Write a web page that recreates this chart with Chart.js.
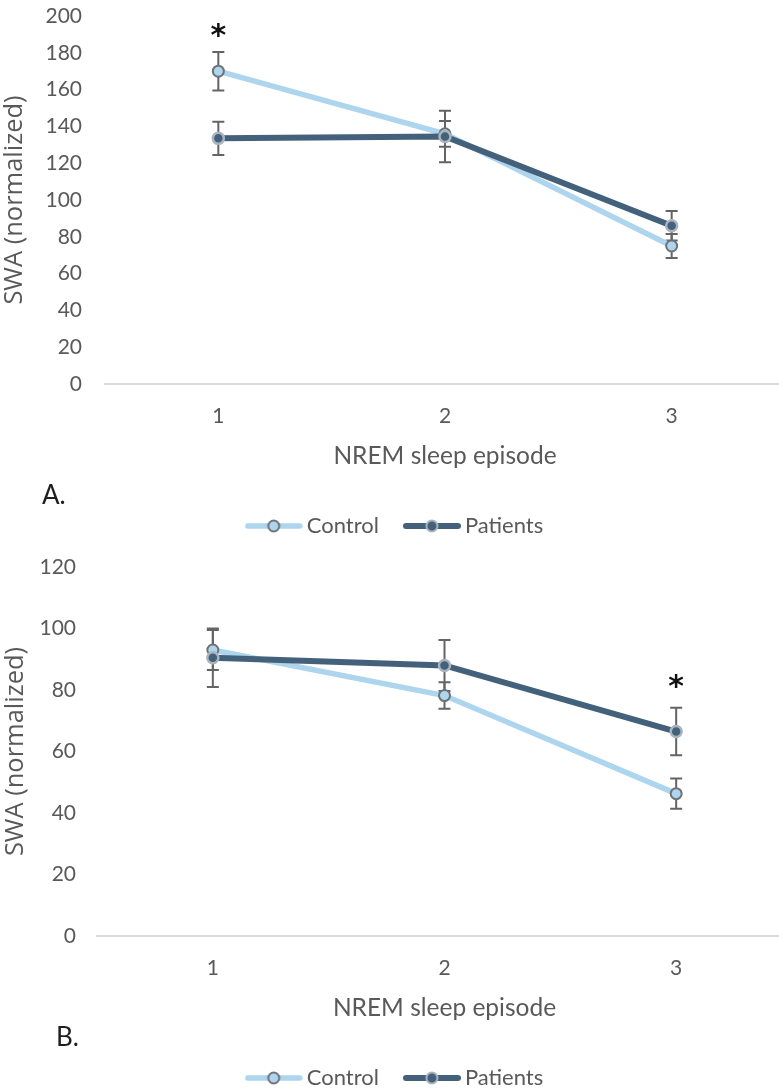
<!DOCTYPE html>
<html>
<head>
<meta charset="utf-8">
<script src="https://cdn.jsdelivr.net/npm/chart.js@4/dist/chart.umd.min.js"></script>
<style>
  html, body { margin: 0; padding: 0; background: #fff; overflow: hidden; width: 779px; height: 1088px; }
  .wrap { position: absolute; left: 0; width: 800px; height: 560px; }
  .panel-tag { position: absolute; font-family: Lato, sans-serif; font-size: 26px; line-height: 26px; color: #1e1e1e; }
</style>
</head>
<body>
<div class="wrap" style="top:0"><canvas id="chartA" width="800" height="560"></canvas></div>
<div class="wrap" style="top:551px"><canvas id="chartB" width="800" height="560"></canvas></div>
<div class="panel-tag" style="left:42px; top:481px">A.</div>
<div class="panel-tag" style="left:56px; top:1023px">B.</div>
<script>
// NREM sleep episodes on the x axis
const episodes = ['1', '2', '3'];
const seriesNames = ['Control', 'Patients'];

// Panel A: SWA (normalized), mean and error per episode
const controlA = [170, 136, 75];
const controlAErr = [10.5, 7, 6.5];
const patientsA = [133.5, 134.5, 86];
const patientsAErr = [9, 14, 8];
const starsA = [193.5, null, null];
const ticksA = [0, 200, 20];

// Panel B: SWA (normalized), mean and error per episode
const controlB = [93, 78.2, 46.3];
const controlBErr = [6.5, 4.3, 4.9];
const patientsB = [90.5, 88, 66.5];
const patientsBErr = [9.5, 8.3, 7.7];
const starsB = [null, null, 83.5];
const ticksB = [0, 120, 20];

const CONTROL_LINE = '#aed5ee';
const CONTROL_EDGE = '#6e7276';
const PATIENT_LINE = '#44617b';
const PATIENT_EDGE = '#aab4be';
const TEXT = '#595959';
const ERR = '#646464';

// Legend swatch: line with its marker
function swatch(lineColor, lineWidth, fill, edge) {
  const c = document.createElement('canvas');
  c.width = 58; c.height = 16;
  const g = c.getContext('2d');
  g.strokeStyle = lineColor; g.lineWidth = lineWidth; g.lineCap = 'round';
  g.beginPath(); g.moveTo(3, 8); g.lineTo(55, 8); g.stroke();
  g.beginPath(); g.arc(29, 8, 5.5, 0, Math.PI * 2);
  g.fillStyle = fill; g.fill();
  g.lineWidth = 2; g.strokeStyle = edge; g.stroke();
  return c;
}
const swatches = [
  swatch(CONTROL_LINE, 5.5, CONTROL_LINE, CONTROL_EDGE),
  swatch(PATIENT_LINE, 6, PATIENT_LINE, PATIENT_EDGE)
];

// Vertical error bars with caps, drawn under the lines
const errorBars = {
  id: 'errorBars',
  beforeDatasetsDraw(chart) {
    const {ctx, scales: {x, y}} = chart;
    ctx.save();
    ctx.strokeStyle = ERR;
    ctx.lineWidth = 2;
    chart.data.datasets.forEach(ds => {
      ds.data.forEach((v, i) => {
        const e = ds.errors[i];
        const px = x.getPixelForValue(i);
        const top = y.getPixelForValue(v + e);
        const bot = y.getPixelForValue(v - e);
        ctx.beginPath();
        ctx.moveTo(px, top); ctx.lineTo(px, bot);
        ctx.moveTo(px - 6, top); ctx.lineTo(px + 6, top);
        ctx.moveTo(px - 6, bot); ctx.lineTo(px + 6, bot);
        ctx.stroke();
      });
    });
    ctx.restore();
  }
};

// Significance markers
const stars = {
  id: 'stars',
  afterDatasetsDraw(chart, args, opts) {
    const {ctx, scales: {x, y}} = chart;
    ctx.save();
    ctx.fillStyle = '#111';
    ctx.font = 'bold 30px "DejaVu Sans"';
    ctx.textAlign = 'center';
    ctx.textBaseline = 'alphabetic';
    opts.values.forEach((v, i) => {
      if (v === null) return;
      ctx.fillText('*', x.getPixelForValue(i), y.getPixelForValue(v) + 17);
    });
    ctx.restore();
  }
};

function makeChart(id, cfg) {
  const datasets = [
    {
      label: seriesNames[0], data: cfg.control, errors: cfg.controlErr, order: 2,
      borderColor: CONTROL_LINE, borderWidth: 5.5, backgroundColor: CONTROL_LINE,
      pointRadius: 5.5, pointHoverRadius: 5.5, pointBorderWidth: 2,
      pointBackgroundColor: CONTROL_LINE, pointBorderColor: CONTROL_EDGE, tension: 0
    },
    {
      label: seriesNames[1], data: cfg.patients, errors: cfg.patientsErr, order: 1,
      borderColor: PATIENT_LINE, borderWidth: 6, backgroundColor: PATIENT_LINE,
      pointRadius: 5.5, pointHoverRadius: 5.5, pointBorderWidth: 2.5,
      pointBackgroundColor: PATIENT_LINE, pointBorderColor: PATIENT_EDGE, tension: 0
    }
  ];
  return new Chart(document.getElementById(id), {
    type: 'line',
    data: { labels: episodes, datasets },
    plugins: [errorBars, stars],
    options: {
      responsive: false,
      animation: false,
      events: [],
      layout: { padding: { top: 16, right: cfg.padRight, bottom: cfg.padBottom, left: cfg.padLeft } },
      scales: {
        x: {
          offset: true,
          grid: { display: true, drawOnChartArea: false, drawTicks: false },
          border: { display: true, color: '#d9d9d9', width: 2 },
          ticks: { color: TEXT, font: { family: 'Lato', size: 21 }, padding: 20 },
          title: {
            display: true, text: 'NREM sleep episode', color: TEXT,
            font: { family: 'Lato', size: 24.5 }, padding: { top: 0, bottom: 13 }
          },
          afterFit(s) { s.height = 100; }
        },
        y: {
          min: cfg.ticks[0], max: cfg.ticks[1],
          grid: { display: false, drawTicks: false },
          border: { display: false },
          ticks: { stepSize: cfg.ticks[2], color: TEXT, font: { family: 'Lato', size: 21 }, padding: cfg.tickPad },
          title: {
            display: true, text: 'SWA (normalized)', color: TEXT,
            font: { family: 'Open Sans', size: 25.5 }, padding: { top: cfg.titlePad, bottom: 0 }
          },
          afterFit(s) { s.width = cfg.axisWidth; s.paddingTop = 0; s.paddingBottom = 0; }
        }
      },
      plugins: {
        tooltip: { enabled: false },
        stars: { values: cfg.stars },
        legend: {
          position: 'bottom',
          labels: {
            usePointStyle: true,
            pointStyleWidth: 44,
            padding: 31,
            color: TEXT,
            font: { family: 'Lato', size: 22 },
            generateLabels: chart => chart.data.datasets.map((ds, i) => ({
              text: ds.label, pointStyle: swatches[i], fillStyle: ds.borderColor,
              strokeStyle: ds.borderColor, lineWidth: 0, hidden: false,
              datasetIndex: i, fontColor: TEXT
            }))
          }
        }
      }
    }
  });
}

makeChart('chartA', {
  control: controlA, controlErr: controlAErr, patients: patientsA, patientsErr: patientsAErr,
  stars: starsA, ticks: ticksA, axisWidth: 95, tickPad: 23, titlePad: -10.3,
  padLeft: 10, padRight: 15, padBottom: 13
});
makeChart('chartB', {
  control: controlB, controlErr: controlBErr, patients: patientsB, patientsErr: patientsBErr,
  stars: starsB, ticks: ticksB, axisWidth: 97, tickPad: 21, titlePad: 0,
  padLeft: 0, padRight: 5, padBottom: 12
});
</script>
</body>
</html>
